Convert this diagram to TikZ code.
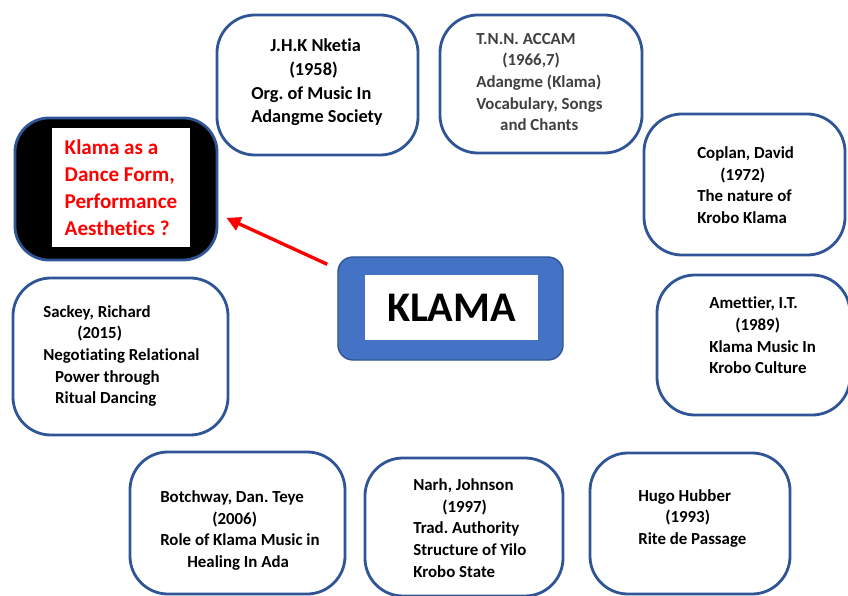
\documentclass[tikz,border=0pt]{standalone}
\usepackage{fontspec}
\setmainfont{Carlito}[Ligatures=NoCommon]
\frenchspacing
\usetikzlibrary{arrows.meta}
\definecolor{refblue}{RGB}{47,85,151}
\definecolor{klamablue}{RGB}{68,114,196}

\begin{document}
\begin{tikzpicture}[
  x=0.025cm, y=-0.025cm,
  refbox/.style={draw=refblue,line width=2pt,rounded corners=0.95cm,fill=white,inner sep=0pt},
  reftext/.style={anchor=west,align=left,inner sep=0pt,font=\fontsize{12}{15.4}\selectfont\bfseries},
  arr/.style={-{Triangle[length=10pt,width=10pt]},red,line width=2.4pt}
]
  \useasboundingbox (0,0) rectangle (848,596);

  \node[refbox,minimum width=5.025cm,minimum height=3.5cm] (nketia) at (317.5,85) {};
  \node[reftext,font=\fontsize{13}{16.8}\selectfont\bfseries] (nketiatxt) at (251,82.5)
    {\hspace*{13.5pt}J.H.K Nketia\\ \hspace*{27pt}(1958)\\ Org. of Music In\\ Adangme Society};

  \node[refbox,minimum width=5.05cm,minimum height=3.45cm] (accam) at (541,84) {};
  \node[reftext,text=black!75] (accamtxt) at (476,82)
    {T.N.N. ACCAM\\ \hspace*{18.5pt}(1966,7)\\ Adangme (Klama)\\ Vocabulary, Songs\\ \hspace*{17pt}and Chants};

  \node[refbox,minimum width=5.025cm,minimum height=3.525cm] (coplan) at (744.5,184.5) {};
  \node[reftext] (coplantxt) at (697,185)
    {Coplan, David\\ \hspace*{16.4pt}(1972)\\ The nature of\\ Krobo Klama};

  \node[refbox,minimum width=4.825cm,minimum height=3.5cm] (amettier) at (753.5,345) {};
  \node[reftext] (amettiertxt) at (709,335.5)
    {Amettier, I.T.\\ \hspace*{18.5pt}(1989)\\ Klama Music In\\ Krobo Culture};

  \node[refbox,minimum width=5cm,minimum height=3.525cm] (hugo) at (690,523.5) {};
  \node[reftext] (hugotxt) at (638,518.5)
    {Hugo Hubber\\ \hspace*{19.2pt}(1993)\\ Rite de Passage};

  \node[refbox,minimum width=4.95cm,minimum height=3.45cm] (narh) at (464,527) {};
  \node[reftext] (narhtxt) at (413,528)
    {Narh, Johnson\\ \hspace*{20.6pt}(1997)\\ Trad. Authority\\ Structure of Yilo\\ Krobo State};

  \node[refbox,minimum width=5.375cm,minimum height=3.55cm] (botchway) at (237.5,523) {};
  \node[reftext] (botchwaytxt) at (160,530.5)
    {Botchway, Dan. Teye\\ \hspace*{37pt}(2006)\\ Role of Klama Music in\\ \hspace*{19.2pt}Healing In Ada};

  \node[refbox,minimum width=5.375cm,minimum height=3.925cm] (sackey) at (120.5,356.5) {};
  \node[reftext] (sackeytxt) at (43,356)
    {Sackey, Richard\\ \hspace*{24.2pt}(2015)\\ Negotiating Relational\\ \hspace*{8.5pt}Power through\\ \hspace*{8.5pt}Ritual Dancing};

  \node[refbox,fill=black,rounded corners=0.85cm,minimum width=5.05cm,minimum height=3.55cm] (dance) at (116,189) {};
  \node[fill=white,inner sep=0pt,minimum width=3.45cm,minimum height=2.975cm,align=left,text=red,
    font=\fontsize{15}{19.2}\selectfont\bfseries] (dancetxt) at (121,187.5)
    {Klama as a\\ Dance Form,\\ Performance\\ Aesthetics ?};

  \node[draw=refblue,line width=1pt,fill=klamablue,rounded corners=0.375cm,
    minimum width=5.625cm,minimum height=2.575cm] (klama) at (450.5,308.5) {};
  \node[fill=white,inner sep=0pt,minimum width=4.325cm,minimum height=1.625cm,
    font=\fontsize{30}{36}\selectfont\bfseries] (klamatxt) at (451.5,307.5) {KLAMA};

  \draw[arr] ([shift={(-10,8)}]klama.north west) -- ([shift={(8,29)}]dance.east);
\end{tikzpicture}
\end{document}
